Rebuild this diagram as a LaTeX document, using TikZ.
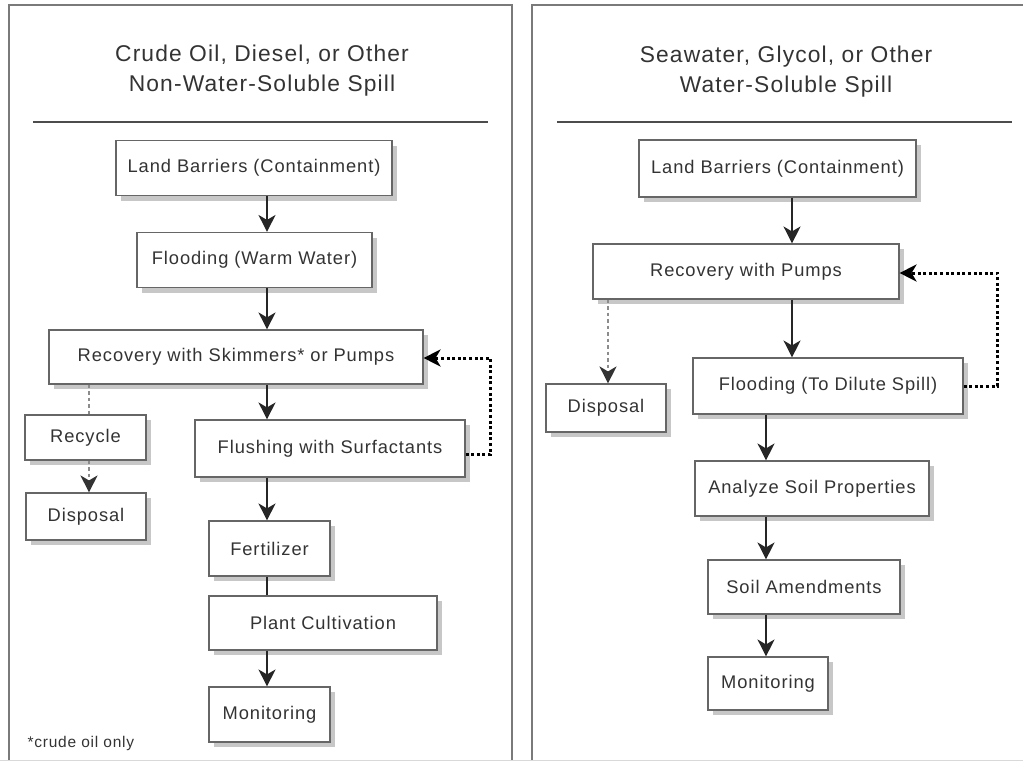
\documentclass[tikz,border=0pt]{standalone}
\usepackage{fontspec}
\setmainfont{Liberation Sans}[LetterSpace=5]
\usetikzlibrary{arrows.meta,shadows}

\definecolor{panelline}{HTML}{7A7A7A}
\definecolor{boxline}{HTML}{666666}
\definecolor{txt}{HTML}{333333}

\tikzset{
  stepbox/.style={draw=boxline, line width=1.1pt, fill=white, text=txt,
    font=\fontsize{18.3}{22}\selectfont, inner sep=0pt, minimum height=55pt,
    drop shadow={shadow xshift=5pt, shadow yshift=-5pt, fill=black!40, opacity=.55}},
  heading/.style={text=txt, align=center, font=\fontsize{22.8}{30}\selectfont},
  flow/.style={draw=black!85, line width=1.4pt, -{Stealth[length=17pt,width=17pt,inset=5pt]}},
  plain/.style={draw=black!85, line width=1.4pt},
  loopback/.style={draw=black, line width=3pt, dash pattern=on 3pt off 2.6pt,
    -{Stealth[length=17pt,width=17pt,inset=5pt]}},
  waste/.style={draw=black!45, line width=1.5pt, dash pattern=on 3.5pt off 3pt,
    -{Stealth[length=17pt,width=17pt,inset=5pt,black!80]}}
}

\begin{document}
\begin{tikzpicture}[x=1pt,y=-1pt]
  \useasboundingbox (0,0) rectangle (1023,761);

  % panels
  \draw[panelline, line width=2pt] (9,761) -- (9,5) -- (512,5) -- (512,761);
  \draw[panelline, line width=2pt] (1023,5) -- (532,5) -- (532,761);
  \draw[black!15, line width=1pt] (0,760) -- (1023,760);
  \draw[black!70, line width=1.2pt] (33,122) -- (488,122);
  \draw[black!70, line width=1.2pt] (557,122) -- (1012,122);

  % left: non-water-soluble
  \node[heading] (titleL) at (262,71) {Crude Oil, Diesel, or Other\\Non-Water-Soluble Spill};
  \coordinate (colL) at (267,0);
  \coordinate (sideL) at (89,0);
  \node[stepbox, minimum width=276pt] (landL) at (254,168) {Land Barriers (Containment)};
  \node[stepbox, minimum width=235pt] (floodL) at (254.5,260) {Flooding (Warm Water)};
  \node[stepbox, minimum width=374pt, minimum height=54pt] (recovL) at (236,357) {Recovery with Skimmers* or Pumps};
  \node[stepbox, minimum width=270pt, minimum height=57pt] (flush) at (330,448.5) {Flushing with Surfactants};
  \node[stepbox, minimum width=121pt, minimum height=45pt] (recycle) at (85.5,437.5) {Recycle};
  \node[stepbox, minimum width=120pt, minimum height=47pt] (dispL) at (86,516.5) {Disposal};
  \node[stepbox, minimum width=121pt] (fert) at (269.5,548.5) {Fertilizer};
  \node[stepbox, minimum width=228pt, minimum height=54pt] (plant) at (323,623) {Plant Cultivation};
  \node[stepbox, minimum width=121pt] (monL) at (269.5,714.5) {Monitoring};
  \node[text=txt, font=\fontsize{15.5}{18}\selectfont, anchor=west] (note) at (24,743) {*crude oil only};

  \draw[flow] (landL.south -| colL) -- (floodL.north -| colL);
  \draw[flow] (floodL.south -| colL) -- (recovL.north -| colL);
  \draw[flow] (recovL.south -| colL) -- (flush.north -| colL);
  \draw[flow] (flush.south -| colL) -- (fert.north -| colL);
  \draw[plain] (fert.south -| colL) -- (plant.north -| colL);
  \draw[flow] (plant.south -| colL) -- (monL.north -| colL);
  \draw[waste, -] (recovL.south -| sideL) -- (recycle.north -| sideL);
  \draw[waste] (recycle.south -| sideL) -- (dispL.north -| sideL);
  \draw[loopback] ([yshift=-6pt]flush.east) -- ++(25,0) |- ([yshift=-1pt]recovL.east);

  % right: water-soluble
  \node[heading] (titleR) at (786,72) {Seawater, Glycol, or Other\\Water-Soluble Spill};
  \coordinate (colR) at (792,0);
  \coordinate (lowR) at (766,0);
  \coordinate (sideR) at (608,0);
  \node[stepbox, minimum width=277pt, minimum height=57pt] (landR) at (777.5,168.5) {Land Barriers (Containment)};
  \node[stepbox, minimum width=306pt] (recovR) at (746,271.5) {Recovery with Pumps};
  \node[stepbox, minimum width=270pt, minimum height=56pt] (floodR) at (828,386) {Flooding (To Dilute Spill)};
  \node[stepbox, minimum width=120pt, minimum height=48pt] (dispR) at (606,408) {Disposal};
  \node[stepbox, minimum width=234pt] (soil) at (812,488.5) {Analyze Soil Properties};
  \node[stepbox, minimum width=192pt, minimum height=54pt] (amend) at (804,587) {Soil Amendments};
  \node[stepbox, minimum width=120pt, minimum height=53pt] (monR) at (768,683.5) {Monitoring};

  \draw[flow] (landR.south -| colR) -- (recovR.north -| colR);
  \draw[flow] (recovR.south -| colR) -- (floodR.north -| colR);
  \draw[flow] (floodR.south -| lowR) -- (soil.north -| lowR);
  \draw[flow] (soil.south -| lowR) -- (amend.north -| lowR);
  \draw[flow] (amend.south -| lowR) -- (monR.north -| lowR);
  \draw[waste] (recovR.south -| sideR) -- (dispR.north -| sideR);
  \draw[loopback] (floodR.east) -- ++(34,0) |- ([yshift=-1.5pt]recovR.east);
\end{tikzpicture}
\end{document}
